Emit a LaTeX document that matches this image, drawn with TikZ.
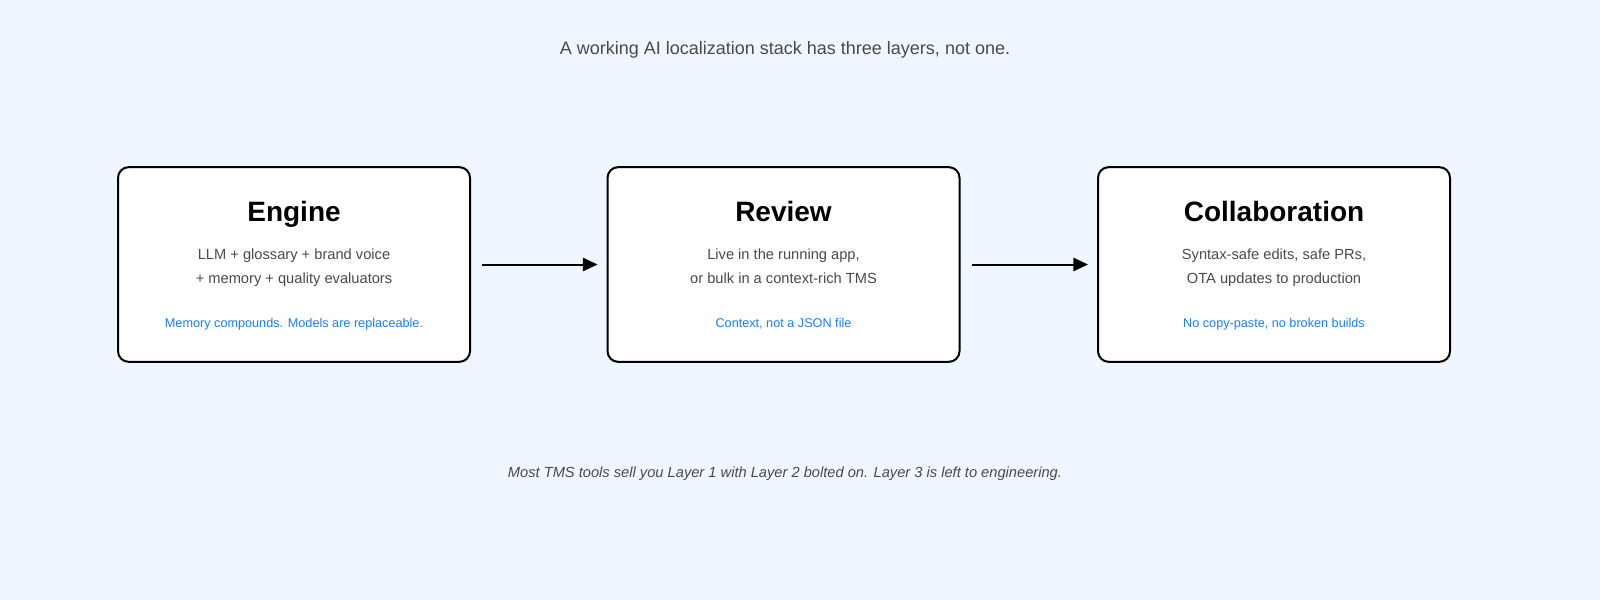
\documentclass[tikz,border=0pt]{standalone}
\usepackage{fontspec}
\setmainfont{Liberation Sans}
\usetikzlibrary{arrows.meta}
\definecolor{bg}{HTML}{EFF6FF}
\definecolor{dotc}{HTML}{D2DBE6}
\definecolor{txtgray}{HTML}{4A4A4A}
\definecolor{accent}{HTML}{1A7FF0}
\tikzset{
  layer/.style={draw=black, line width=1.5pt, fill=white, rounded corners=8pt, minimum width=264pt, minimum height=146pt, inner sep=0pt},
  ttl/.style={font=\fontsize{21}{25}\selectfont\bfseries, text=black, anchor=base, inner sep=0pt},
  body/.style={font=\fontsize{11}{18}\selectfont, text=txtgray, anchor=base, inner sep=0pt},
  note/.style={font=\fontsize{9.5}{12}\selectfont, text=accent, anchor=base, inner sep=0pt},
  conn/.style={line width=1.5pt, -{Triangle[length=11pt,width=10pt]}}
}
\begin{document}
\begin{tikzpicture}[x=0.75pt,y=-0.75pt]
\fill[bg] (0,0) rectangle (1600,600);
\useasboundingbox (0,0) rectangle (1600,600);
\foreach \i in {0,...,66} {\foreach \j in {0,...,24} {\fill[dotc] (\i*24+10,\j*24+10) circle (0.55pt);}}
\node[font=\fontsize{13.5}{16}\selectfont, text=txtgray] (head) at (785,50) {A working AI localization stack has three layers, not one.};
\foreach \n/\x/\t/\a/\b/\c in {eng/294/{Engine}/{LLM + glossary + brand voice}/{+ memory + quality evaluators}/{Memory compounds. Models are replaceable.},
  rev/783.5/{Review}/{Live in the running app,}/{or bulk in a context-rich TMS}/{Context, not a JSON file},
  col/1274/{Collaboration}/{Syntax-safe edits, safe PRs,}/{OTA updates to production}/{No copy-paste, no broken builds}} {
  \node[layer] (\n) at (\x,264.5) {};
  \node[ttl] (\n-t) at (\x,221) {\t};
  \node[body] (\n-b1) at (\x,259) {\a};
  \node[body] (\n-b2) at (\x,283) {\b};
  \node[note] (\n-n) at (\x,327) {\c};
}
\path (eng.east) ++(11,0) coordinate (a1) (rev.west) ++(-9,0) coordinate (a2);
\draw[conn] (a1) -- (a2);
\path (rev.east) ++(11,0) coordinate (b1) (col.west) ++(-9,0) coordinate (b2);
\draw[conn] (b1) -- (b2);
\node[font=\fontsize{11}{14}\selectfont\itshape, text=txtgray] (foot) at (785,474) {Most TMS tools sell you Layer 1 with Layer 2 bolted on. Layer 3 is left to engineering.};
\end{tikzpicture}
\end{document}
